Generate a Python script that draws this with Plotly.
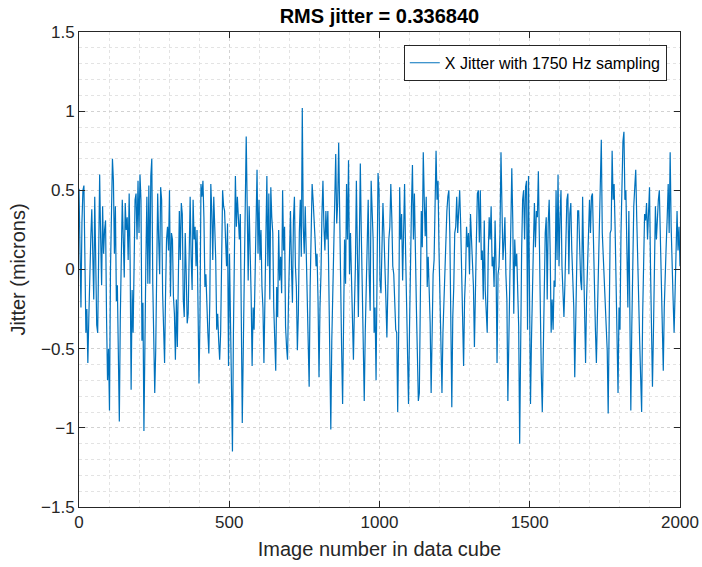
import numpy as np
import plotly.graph_objects as go

# X-axis jitter per frame (microns), 1750 Hz sampling, frames 0..2000
jitter_part1 = [
    0.51, 0.0, -0.24, 0.3, 0.5, 0.53, -0.1, -0.4, -0.25, -0.59, -0.3, 0.1, 0.2, 0.38, 0.05, -0.19,
    0.46, 0.1, -0.35, -0.4, 0.3, 0.6, 0.2, -0.1, 0.4, 0.1, 0.25, 0.31, -0.3, -0.7, -0.5, -0.89,
    0.0, 0.3, 0.7, 0.56, 0.1, 0.4, -0.2, -0.1, -0.5, -0.96, -0.3, 0.3, 0.44, 0.2, -0.05, 0.42, 0.25,
    0.33, 0.06, 0.48, 0.04, -0.76, -0.13, -0.40, 0.16, 0.44, 0.48, 0.19, 0.56, 0.23, 0.6, 0.44, -0.45,
    -0.21, -1.02, -0.3, 0.06, 0.46, -0.09, 0.53, -0.09, 0.59, 0.70, -0.09, -0.40, -0.78, -0.51, 0.02,
    0.48, 0.19, -0.03, 0.52, 0.44, -0.15, -0.49, -0.59, -0.15, 0.19, 0.27, 0.12, 0.5, -0.17, 0.23,
    0.19, -0.17, -0.28, -0.57, -0.19,
    -0.49, -0.17, 0.37, 0.06, 0.42, 0.35, -0.19, -0.30, 0.23, -0.03, -0.34, -0.28, 0.14, 0.46, 0.08,
    -0.13, 0.44, 0.19, 0.27, 0.02, 0.25, -0.38, -0.72, -0.30, 0.54, 0.46, 0.56, 0.33, -0.11, -0.03,
    -0.28, -0.40, -0.53, -0.19, 0.54, 0.37, 0.06, 0.46, 0.27, 0.06, -0.38, -0.28, -0.45, -0.57, -0.40,
    -0.05, 0.5, 0.4, 0.37, 0.19, 0.02,
]

jitter_part2 = [
    0.29, -0.61, 0.10, -0.36, -0.51, -1.15, -0.40, 0.16, 0.59, 0.27, 0.46, 0.33, 0.19, 0.35, -0.15,
    -0.97, -0.51, -0.09, 0.23, 0.84, 0.4, -0.07, 0.4, 0.19, -0.17, -0.61, -0.24, -0.38, -0.03, 0.29,
    0.63, 0.10, 0.44, 0.06, 0.25, -0.11, -0.24, -0.59, -0.11, 0.42, 0.59, 0.02, 0.48, -0.19, 0.52,
    0.33, 0.23, -0.24, -0.40, -0.64, -0.11,
    -0.30, 0.25, -0.07, 0.08, -0.15, 0.5, 0.12, 0.27, -0.36, -0.49, -0.57, -0.19, 0.19, 0.37, 0.02,
    -0.21, 0.31, 0.46, 0.02, -0.11, -0.51, -0.28, 0.23, 0.44, 0.08, 1.02, 0.27, 0.10, 0.4, 0.06,
    -0.30, -0.40, -0.74, -0.11, 0.23, 0.54, 0.44, 0.33, 0.19, 0.02, 0.10, -0.19, -0.68, -0.24, -0.03,
    0.35, 0.56, 0.27, 0.12, 0.37, 0.19,
    0.37, -0.07, -0.53, -1.01, -0.45, -0.15, 0.19, 0.53, 0.73, 0.29, 0.42, 0.8, 0.23, -0.03, -0.51,
    -0.85, -0.11, 0.19, -0.09, 0.54, 0.19, 0.69, -0.03, 0.23, -0.05, -0.36, -0.57, -0.24, 0.02, 0.56,
    0.14, -0.30, 0.16, 0.67, 0.23, -0.15, -0.32, -0.83, -0.40, -0.03, 0.23, 0.44, -0.03, -0.26, 0.56,
    0.33, 0.19, -0.40, -0.24, -0.70, 0.31,
]

jitter_part3 = [
    0.61, 0.5, -0.07, -0.15, 0.16, 0.42, 0.23, -0.11, -0.19, -0.43, -0.03, 0.19, 0.27, 0.54, 0.33,
    0.02, -0.03, -0.19, -0.38, -0.40, -0.9, -0.40, 0.52, 0.19, 0.35, -0.07, 0.23, 0.54, 0.12, -0.30,
    -0.55, -0.85, -0.38, 0.16, 0.4, 0.66, 0.19, 0.48, 0.02, -0.24, -0.53, -0.83, -0.78, -0.11, 0.37,
    0.14, 0.74, 0.44, 0.21, 0.46, -0.11,
    0.08, -0.11, -0.34, -0.78, -0.36, -0.03, 0.06, 0.5, 0.75, 0.44, 0.56, 0.12, -0.15, -0.61, -0.78,
    -0.40, -0.19, 0.08, 0.19, 0.37, 0.46, 0.5, 0.23, -0.24, -0.87, -0.30, -0.11, 0.23, 0.27, 0.46,
    0.23, 0.37, 0.5, 0.29, -0.05, -0.24, -0.61, -0.19, -0.03, 0.27, 0.14, 0.23, -0.03, 0.35, 0.19,
    -0.03, -0.11, -0.49, -0.24, 0.19, 0.48,
    0.5, 0.17, 0.5, 0.06, 0.12, -0.19, 0.31, -0.13, -0.28, -0.40, 0.08, 0.33, 0.19, 0.4, 0.02,
    0.08, -0.11, 0.31, 0.02, -0.59, -0.03, 0.02, 0.23, 0.74, 0.4, 0.06, 0.17, 0.33, -0.03, -0.19,
    -0.83, -0.30, -0.07, 0.27, 0.64, 0.31, -0.28, 0.19, 0.02, 0.10, -0.09, -0.36, -1.1, -0.19, 0.12,
    0.44, 0.5, 0.19, 0.52, 0.56, -0.38,
]

jitter_part4 = [
    0.59, -0.40, -0.85, -0.45, -0.03, 0.16, 0.42, 0.14, 0.37, 0.33, 0.62, 0.08, -0.24, -0.66, -0.9,
    -0.45, -0.09, 0.23, 0.33, -0.19, 0.29, 0.44, 0.12, -0.40, -0.19, -0.38, -0.07, -0.11, 0.5, 0.06,
    0.6, 0.02, 0.33, 0.5, 0.02, -0.17, -0.30, -0.09, 0.23, 0.44, 0.48, -0.03, 0.35, 0.42, 0.12,
    -0.05, -0.24, -0.68, -0.24, -0.09, 0.37,
    0.37, 0.12, -0.07, -0.13, 0.46, 0.06, -0.30, -0.59, -0.19, 0.08, 0.27, 0.44, 0.23, 0.46, 0.48,
    0.06, -0.09, -0.38, -0.59, -0.30, -0.03, 0.27, 0.65, 0.82, 0.23, 0.06, -0.07, -0.24, -0.40, -0.51,
    -0.91, -0.30, 0.23, 0.25, 0.75, 0.44, 0.54, 0.27, -0.19, -0.45, -0.78, -0.24, -0.38, 0.23, 0.56,
    0.81, 0.87, 0.44, 0.5, 0.14, -0.24,
    0.37, -0.51, -0.89, -0.36, 0.19, 0.4, 0.52, 0.63, 0.33, 0.12, -0.19, -0.45, -0.68, -0.9, -0.30,
    0.06, 0.35, 0.31, 0.42, 0.19, 0.4, 0.52, 0.02, -0.36, -0.74, -0.40, -0.05, 0.4, 0.19, 0.33,
    0.44, 0.5, 0.20, -0.09, -0.19, -0.64, -0.24, 0.08, 0.16, 0.33, 0.54, 0.23, 0.74, 0.27, 0.10,
    -0.19, -0.40, -0.09, 0.27, 0.37, 0.12, 0.27, 0.02,
]

jitter = jitter_part1 + jitter_part2 + jitter_part3 + jitter_part4
frames = np.linspace(0, 2000, len(jitter))

rms_text = "0.336840"
series_name = "X Jitter with 1750 Hz sampling"

axis_color = "#262626"
font_family = "Liberation Sans, Arial, Helvetica, sans-serif"

fig = go.Figure()
fig.add_trace(go.Scatter(
    x=frames, y=jitter, mode="lines", name=series_name,
    line=dict(color="#0072BD", width=1.2),
))

common_axis = dict(
    showline=True, linecolor=axis_color, linewidth=1, mirror="ticks",
    ticks="inside", ticklen=6, tickcolor=axis_color,
    tickfont=dict(size=17, color=axis_color, family=font_family),
    showgrid=True, gridcolor="#d2d2d2", griddash="dot", gridwidth=1,
    zeroline=False, automargin=False,
)

fig.update_xaxes(
    range=[0, 2000], dtick=500, tick0=0,
    minor=dict(dtick=100, showgrid=True, gridcolor="#e3e3e3", griddash="dot", ticks=""),
    title=dict(text="Image number in data cube", standoff=10,
               font=dict(size=20, color=axis_color, family=font_family)),
    **common_axis,
)
fig.update_yaxes(
    range=[-1.5, 1.5], dtick=0.5, tick0=0,
    minor=dict(dtick=0.1, showgrid=True, gridcolor="#e3e3e3", griddash="dot", ticks=""),
    title=dict(text="Jitter (microns)", standoff=10,
               font=dict(size=20, color=axis_color, family=font_family)),
    **common_axis,
)

fig.update_layout(
    width=702, height=567,
    margin=dict(l=79, r=22, t=32, b=60),
    paper_bgcolor="white", plot_bgcolor="white",
    title=dict(text="<b>RMS jitter = " + rms_text + "</b>", x=0.5405, xanchor="center",
               y=0.972, yanchor="middle", yref="container",
               font=dict(size=20, color="#000000", family=font_family)),
    showlegend=True,
    legend=dict(x=0.978, y=0.973, xanchor="right", yanchor="top",
                bgcolor="white", bordercolor=axis_color, borderwidth=1,
                font=dict(size=16, color="#000000", family=font_family)),
)

fig.write_html("out.html")
